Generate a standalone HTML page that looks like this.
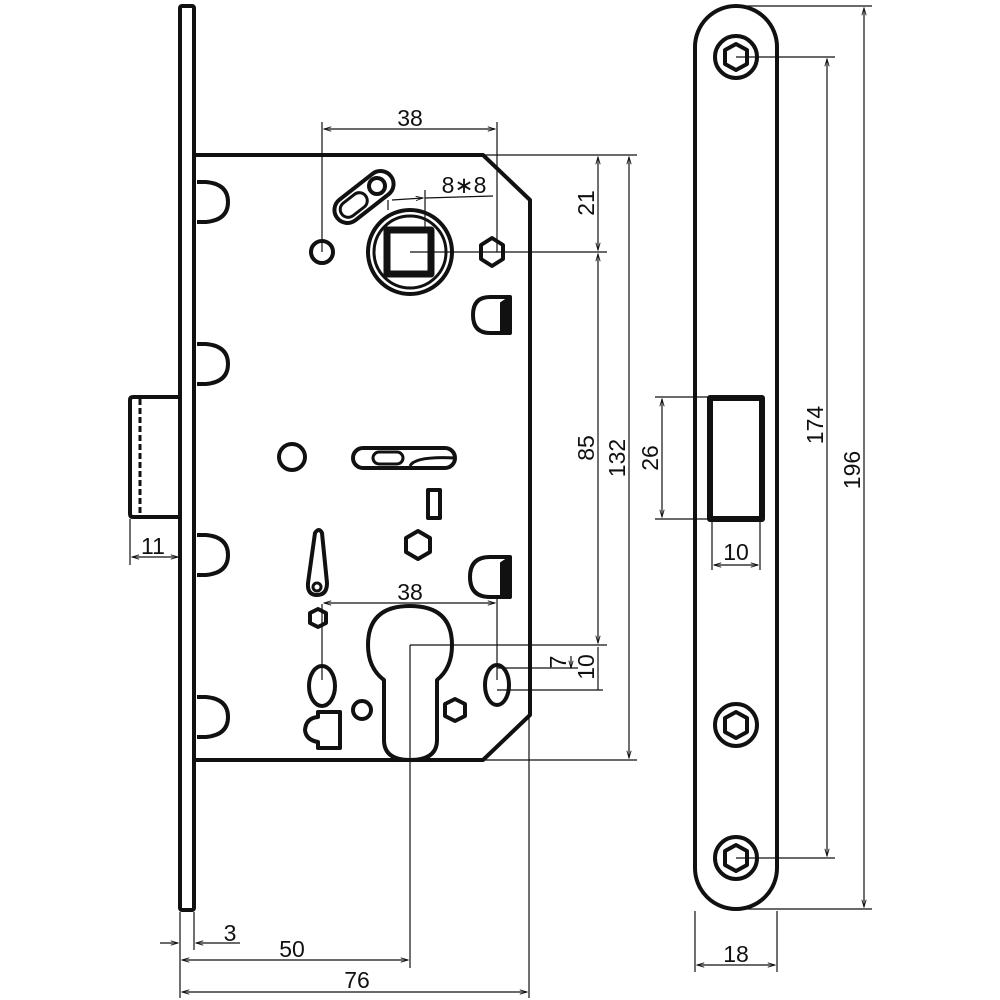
<!DOCTYPE html>
<html><head><meta charset="utf-8"><style>
html,body{margin:0;padding:0;background:#fff}
svg{display:block}
text{font-family:"Liberation Sans",sans-serif;font-size:23px;fill:#111}
</style></head><body>
<svg width="1000" height="1000" viewBox="0 0 1000 1000" xmlns="http://www.w3.org/2000/svg">
<defs>
<marker id="a" viewBox="0 0 10 10" refX="10" refY="5" markerWidth="8" markerHeight="6" orient="auto-start-reverse"><path d="M0,2 L10,5 L0,8" fill="none" stroke="#111" stroke-width="1.2"/></marker>
</defs>
<g fill="none" stroke="#111" stroke-linejoin="round">
<!-- faceplate -->
<rect x="180" y="6" width="14" height="904" rx="2" stroke-width="4"/>
<!-- latch -->
<path d="M180,397 H133 Q130,397 130,400 V514 Q130,517 133,517 H180" stroke-width="4"/>
<line x1="140" y1="399" x2="140" y2="515" stroke-width="3" stroke-dasharray="6,3"/>
<!-- body -->
<path d="M195,155 H483 L530,200 V715 L483,760 H195" stroke-width="4"/>
<!-- D bumps -->
<g stroke-width="4">
<path d="M197,182 H206 Q228,184 228,202 Q228,220 206,222 H197"/>
<path d="M197,344 H206 Q228,346 228,364 Q228,382 206,384 H197"/>
<path d="M197,535 H206 Q228,537 228,555 Q228,573 206,575 H197"/>
<path d="M197,697 H206 Q228,699 228,717 Q228,735 206,737 H197"/>
</g>
<!-- top holes -->
<circle cx="322" cy="252" r="11" stroke-width="4"/>
<polygon points="492,238 503,245 503,259 492,266 481,259 481,245" stroke-width="4"/>
<circle cx="410" cy="252" r="42" stroke-width="4"/>
<circle cx="410" cy="252" r="36" stroke-width="3"/>
<rect x="387" y="230" width="44" height="44" stroke-width="7"/>
<!-- cam slot -->
<g transform="translate(364,197) rotate(-38)">
<rect x="-34" y="-13" width="68" height="26" rx="13" stroke-width="4"/>
<rect x="-28" y="-8" width="30" height="16" rx="8" stroke-width="3"/>
</g>
<circle cx="377" cy="186" r="8" stroke-width="4"/>
<!-- D cups -->
<path d="M510,297 V333 H490 Q473,333 473,315 Q473,297 490,297 Z" stroke-width="4"/>
<path d="M510,297 V333 H501 V303 Z" fill="#111" stroke-width="2"/>
<path d="M510,557 V597 H490 Q470,597 470,577 Q470,557 490,557 Z" stroke-width="4"/>
<path d="M510,557 V597 H501 V563 Z" fill="#111" stroke-width="2"/>
<!-- middle -->
<circle cx="292" cy="457" r="13" stroke-width="4"/>
<rect x="353" y="448" width="102" height="20" rx="10" stroke-width="4"/>
<rect x="373" y="452" width="30" height="12" rx="6" stroke-width="3"/>
<path d="M410,466 Q415,456 455,458" stroke-width="3"/>
<rect x="428" y="490" width="12" height="28" stroke-width="4"/>
<polygon points="418,531 430,538 430,552 418,559 406,552 406,538" stroke-width="4"/>
<!-- tapered pin -->
<path d="M315,533 Q319,527 322,533 L327,583 Q327,595 317,595 Q307,595 308,583 Z" stroke-width="4"/>
<circle cx="317" cy="587" r="4" stroke-width="3"/>
<polygon points="318,609 326,613 326,623 318,627 310,623 310,613" stroke-width="4"/>
<ellipse cx="322" cy="686" rx="13" ry="20" stroke-width="4"/>
<path d="M340,712 V748 H318 V742 Q306,740 305,730 Q306,718 318,717 V712 Z" stroke-width="4"/>
<!-- euro cylinder -->
<path d="M384,680 Q368,668 368,645 Q368,606 410,606 Q452,606 452,645 Q452,668 437,680 V740 Q437,760 410,760 Q384,760 384,740 Z" stroke-width="4"/>
<circle cx="362" cy="710" r="9" stroke-width="4"/>
<polygon points="455,699 465,704 465,716 455,721 445,716 445,704" stroke-width="4"/>
<ellipse cx="497" cy="685" rx="12" ry="20" stroke-width="4"/>
<!-- strike plate -->
<rect x="695" y="6" width="82" height="903" rx="41" stroke-width="4"/>
<rect x="710" y="398" width="52" height="121" stroke-width="6"/>
<g stroke-width="4">
<circle cx="736" cy="57" r="21"/><polygon points="736,44 747,50 747,64 736,70 725,64 725,50"/>
<circle cx="736" cy="725" r="21"/><polygon points="736,712 747,718 747,732 736,738 725,732 725,718"/>
<circle cx="736" cy="858" r="21"/><polygon points="736,845 747,851 747,865 736,871 725,865 725,851"/>
</g>
</g>
<!-- dimension lines -->
<g stroke="#111" stroke-width="1.2" fill="none">
<line x1="322" y1="122" x2="322" y2="252"/><line x1="497" y1="122" x2="497" y2="252"/>
<line x1="324" y1="129" x2="495" y2="129" marker-start="url(#a)" marker-end="url(#a)"/>
<line x1="388" y1="210" x2="388" y2="200"/><line x1="425" y1="190" x2="425" y2="230"/>
<line x1="392" y1="200" x2="423" y2="198" marker-end="url(#a)"/><line x1="425" y1="198" x2="493" y2="196"/>
<line x1="483" y1="155" x2="637" y2="155"/><line x1="410" y1="252" x2="607" y2="252"/>
<line x1="410" y1="645" x2="607" y2="645"/><line x1="497" y1="668" x2="578" y2="668"/><line x1="497" y1="690" x2="603" y2="690"/>
<line x1="483" y1="760" x2="637" y2="760"/>
<line x1="598" y1="157" x2="598" y2="250" marker-start="url(#a)" marker-end="url(#a)"/>
<line x1="598" y1="254" x2="598" y2="643" marker-start="url(#a)" marker-end="url(#a)"/>
<line x1="598" y1="647" x2="598" y2="690"/>
<line x1="571" y1="656" x2="571" y2="668" marker-end="url(#a)"/>
<line x1="629" y1="157" x2="629" y2="758" marker-start="url(#a)" marker-end="url(#a)"/>
<line x1="322" y1="604" x2="322" y2="680"/><line x1="497" y1="597" x2="497" y2="680"/>
<line x1="324" y1="603" x2="495" y2="603" marker-start="url(#a)" marker-end="url(#a)"/>
<line x1="130" y1="519" x2="130" y2="565"/>
<line x1="132" y1="557" x2="178" y2="557" marker-start="url(#a)" marker-end="url(#a)"/>
<line x1="180" y1="912" x2="180" y2="998"/><line x1="194" y1="912" x2="194" y2="950"/>
<line x1="410" y1="645" x2="410" y2="968"/><line x1="529" y1="715" x2="529" y2="998"/>
<line x1="160" y1="943" x2="178" y2="943" marker-end="url(#a)"/><line x1="240" y1="943" x2="196" y2="943" marker-end="url(#a)"/>
<line x1="182" y1="960" x2="408" y2="960" marker-start="url(#a)" marker-end="url(#a)"/>
<line x1="182" y1="992" x2="527" y2="992" marker-start="url(#a)" marker-end="url(#a)"/>
<line x1="655" y1="397" x2="708" y2="397"/><line x1="655" y1="519" x2="708" y2="519"/>
<line x1="662" y1="399" x2="662" y2="517" marker-start="url(#a)" marker-end="url(#a)"/>
<line x1="712" y1="521" x2="712" y2="570"/><line x1="760" y1="521" x2="760" y2="570"/>
<line x1="714" y1="565" x2="758" y2="565" marker-start="url(#a)" marker-end="url(#a)"/>
<line x1="736" y1="6" x2="872" y2="6"/><line x1="736" y1="57" x2="835" y2="57"/>
<line x1="736" y1="858" x2="835" y2="858"/><line x1="736" y1="909" x2="872" y2="909"/>
<line x1="827" y1="59" x2="827" y2="856" marker-start="url(#a)" marker-end="url(#a)"/>
<line x1="864" y1="8" x2="864" y2="907" marker-start="url(#a)" marker-end="url(#a)"/>
<line x1="695" y1="911" x2="695" y2="972"/><line x1="777" y1="911" x2="777" y2="972"/>
<line x1="697" y1="965" x2="775" y2="965" marker-start="url(#a)" marker-end="url(#a)"/>
</g>
<!-- labels -->
<text x="410" y="126" text-anchor="middle">38</text>
<text x="464" y="193" text-anchor="middle">8∗8</text>
<text x="410" y="600" text-anchor="middle">38</text>
<text x="153" y="554" text-anchor="middle">11</text>
<text x="230" y="941" text-anchor="middle">3</text>
<text x="292" y="957" text-anchor="middle">50</text>
<text x="357" y="988" text-anchor="middle">76</text>
<text x="736" y="962" text-anchor="middle">18</text>
<text x="736" y="560" text-anchor="middle">10</text>
<text transform="translate(594,203) rotate(-90)" text-anchor="middle">21</text>
<text transform="translate(594,448) rotate(-90)" text-anchor="middle">85</text>
<text transform="translate(625,458) rotate(-90)" text-anchor="middle">132</text>
<text transform="translate(566,662) rotate(-90)" text-anchor="middle">7</text>
<text transform="translate(594,667) rotate(-90)" text-anchor="middle">10</text>
<text transform="translate(658,458) rotate(-90)" text-anchor="middle">26</text>
<text transform="translate(823,425) rotate(-90)" text-anchor="middle">174</text>
<text transform="translate(860,470) rotate(-90)" text-anchor="middle">196</text>
</g>
</svg>
</body></html>
